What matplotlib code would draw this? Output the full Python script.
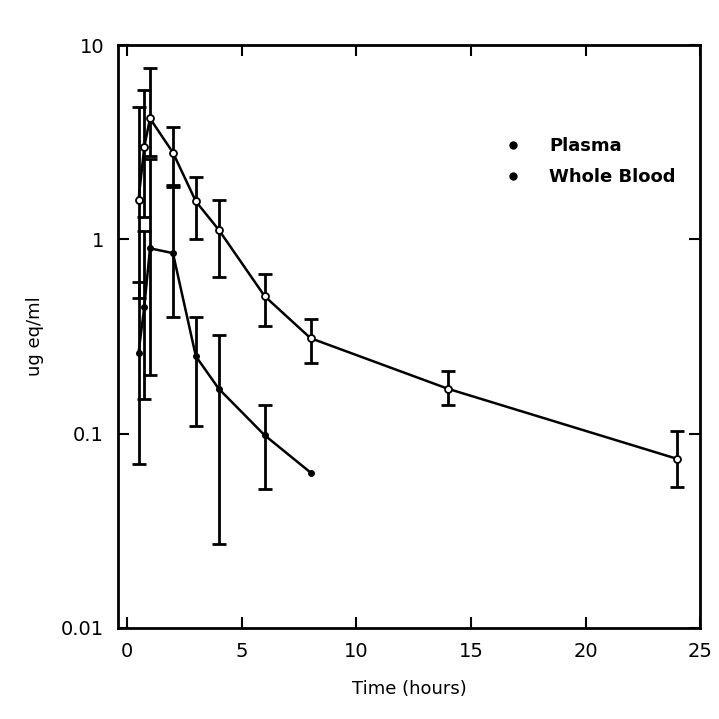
import matplotlib
matplotlib.use('Agg')
import matplotlib.pyplot as plt
from matplotlib.lines import Line2D
import numpy as np

# Values (log y axis)
plasma_t = [0.5, 0.75, 1, 2, 3, 4, 6, 8, 14, 24]
plasma_val = [1.6, 3.0, 4.2, 2.8, 1.57, 1.12, 0.51, 0.31, 0.17, 0.074]
plasma_lo = [0.5, 1.3, 2.7, 1.9, 1.0, 0.64, 0.36, 0.23, 0.14, 0.053]
plasma_hi = [4.8, 5.9, 7.6, 3.8, 2.1, 1.6, 0.66, 0.39, 0.21, 0.103]

blood_t = [0.5, 0.75, 1, 2, 3, 4, 6, 8]
blood_val = [0.26, 0.45, 0.9, 0.85, 0.25, 0.17, 0.098, 0.063]
# last blood point (8 h) has no error bar
blood_lo = [0.07, 0.15, 0.2, 0.4, 0.11, 0.027, 0.052]
blood_hi = [0.6, 1.1, 2.6, 1.86, 0.40, 0.32, 0.14]

x_ticks = [0, 5, 10, 15, 20, 25]
y_ticks = [0.01, 0.1, 1, 10]
y_tick_labels = ['0.01', '0.1', '1', '10']
series_names = ['Plasma', 'Whole Blood']

plasma_val = np.array(plasma_val)
blood_val = np.array(blood_val)
plasma_err = [plasma_val - np.array(plasma_lo), np.array(plasma_hi) - plasma_val]
nb = len(blood_lo)
blood_err = [blood_val[:nb] - np.array(blood_lo), np.array(blood_hi) - blood_val[:nb]]

fig = plt.figure(figsize=(7.19, 7.19), dpi=100)
ax = fig.add_axes([0.164, 0.127, 0.81, 0.81])

bar_kw = dict(fmt='none', ecolor='black', elinewidth=2.0, capsize=5, capthick=2.0)
ax.errorbar(plasma_t, plasma_val, yerr=plasma_err, **bar_kw)
ax.errorbar(blood_t[:nb], blood_val[:nb], yerr=blood_err, **bar_kw)
ax.plot(plasma_t, plasma_val, color='black', lw=1.8, marker='o', ms=5,
        mfc='white', mec='black', mew=1.3)
ax.plot(blood_t, blood_val, color='black', lw=1.8, marker='o', ms=4,
        mfc='black', mec='black')

ax.set_yscale('log')
ax.set_xlim(-0.4, 25)
ax.set_ylim(0.01, 10)
ax.set_xticks(x_ticks)
ax.set_xticklabels([str(t) for t in x_ticks])
ax.set_yticks(y_ticks)
ax.set_yticklabels(y_tick_labels)
ax.minorticks_off()
ax.tick_params(direction='in', length=8, width=1.5, top=True, right=True,
               labelsize=14, pad=10)
for sp in ax.spines.values():
    sp.set_linewidth(2.0)

ax.set_xlabel('Time (hours)', fontsize=13, labelpad=14)
ax.set_ylabel('ug eq/ml', fontsize=13, labelpad=12)

handles = [Line2D([], [], ls='none', marker='o', ms=5, color='black')
           for _ in series_names]
ax.legend(handles, series_names, loc='upper left',
          bbox_to_anchor=(0.62, 0.87), frameon=False,
          prop={'size': 13, 'weight': 'bold'}, handletextpad=1.0,
          labelspacing=0.7)

fig.savefig('out.png', dpi=100)
